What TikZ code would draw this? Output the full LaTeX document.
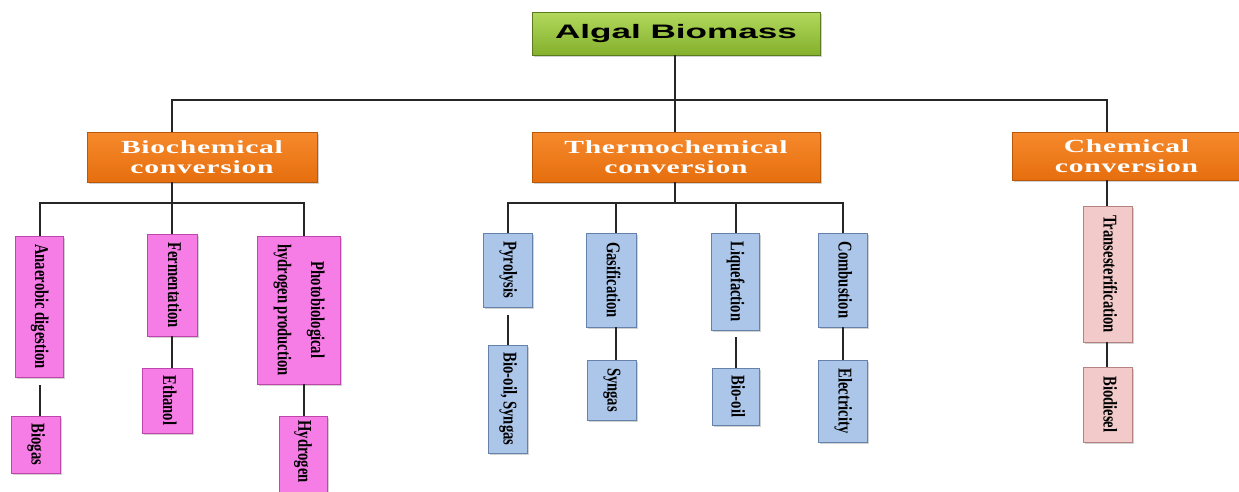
\documentclass[tikz,border=0pt]{standalone}
\usepackage{fontspec}
\setmainfont{Liberation Serif}
\newfontfamily\vfont{Liberation Serif Bold}[FakeStretch=0.75]
\newfontfamily\hfont{Liberation Serif Bold}[FakeStretch=1.6,LetterSpace=4]
\newfontfamily\tfont{Liberation Sans Bold}[FakeStretch=1.8]
\usetikzlibrary{shadows}
\definecolor{greenT}{RGB}{178,216,92}
\definecolor{greenB}{RGB}{132,176,44}
\definecolor{orangeT}{RGB}{246,138,44}
\definecolor{orangeB}{RGB}{230,110,14}
\definecolor{pinkF}{RGB}{246,125,230}
\definecolor{pinkD}{RGB}{190,70,170}
\definecolor{blueF}{RGB}{172,198,234}
\definecolor{blueD}{RGB}{100,130,170}
\definecolor{paleF}{RGB}{243,202,202}
\definecolor{paleD}{RGB}{180,130,130}
\newcommand{\vt}[1]{\rotatebox{-90}{\vfont\fontsize{19.5}{19}\selectfont\begin{tabular}{@{}c@{}}#1\end{tabular}}}
\newcommand{\vtwo}[2]{\rotatebox{-90}{\vfont\fontsize{19.5}{19}\selectfont\begin{tabular}{@{}c@{}}#1\\[14pt]#2\end{tabular}}}
\tikzset{
  box/.style={inner sep=0pt, outer sep=0pt, line width=0.6pt,
    drop shadow={opacity=0.35, shadow xshift=2pt, shadow yshift=-2pt}},
  titlebox/.style={box, draw=greenB!70!black, top color=greenT, bottom color=greenB},
  catbox/.style={box, draw=orangeB!80!black, top color=orangeT, bottom color=orangeB,
    text=white, font=\hfont\fontsize{18.5}{19.5}\selectfont, align=center},
  pinkbox/.style={box, draw=pinkD, fill=pinkF},
  bluebox/.style={box, draw=blueD, fill=blueF},
  palebox/.style={box, draw=paleD, fill=paleF},
  conn/.style={line width=1.6pt, draw=black!85}
}
\begin{document}
\begin{tikzpicture}[x=1pt,y=-1pt]
\useasboundingbox (0,0) rectangle (1239,491);
\fill[white] (0,0) rectangle (1239,491);
% top
\node[titlebox, minimum width=288, minimum height=43] (root) at (676,33.5)
  {\tfont\fontsize{19.5}{24}\selectfont Algal Biomass};
% categories
\node[catbox, minimum width=230, minimum height=50] (bio) at (202,157) {Biochemical\\conversion};
\node[catbox, minimum width=288, minimum height=50] (thermo) at (676,157) {Thermochemical\\conversion};
\node[catbox, minimum width=229, minimum height=48] (chem) at (1126.5,156) {Chemical\\conversion};
% biochemical children
\node[pinkbox, minimum width=48, minimum height=141] (anaer) at (39,306.5) {\vt{Anaerobic digestion}};
\node[pinkbox, minimum width=49, minimum height=57] (biogas) at (35.5,444.5) {\vt{Biogas}};
\node[pinkbox, minimum width=50, minimum height=102] (ferm) at (172,285) {\vt{Fermentation}};
\node[pinkbox, minimum width=50, minimum height=65] (ethanol) at (167,400.5) {\vt{Ethanol}};
\node[pinkbox, minimum width=83, minimum height=148] (photo) at (298.5,310) {\vtwo{Photobiological}{hydrogen production}};
\node[pinkbox, minimum width=48, minimum height=80, anchor=north] (hydro) at (303,416) {\rotatebox{-90}{\vfont\fontsize{19.5}{19}\selectfont\hspace*{3pt}Hydrogen\hspace*{12pt}}};
% thermochemical children
\node[bluebox, minimum width=49, minimum height=74] (pyro) at (507.5,270) {\vt{Pyrolysis}};
\node[bluebox, minimum width=39, minimum height=108] (bosyn) at (507.5,399) {\vt{Bio-oil, Syngas}};
\node[bluebox, minimum width=50, minimum height=94] (gasif) at (611,280) {\vt{Gasification}};
\node[bluebox, minimum width=49, minimum height=60] (syngas) at (611.5,390) {\vt{Syngas}};
\node[bluebox, minimum width=48, minimum height=97] (liq) at (735,281.5) {\vt{Liquefaction}};
\node[bluebox, minimum width=47, minimum height=57] (biooil) at (735.5,396.5) {\vt{Bio-oil}};
\node[bluebox, minimum width=49, minimum height=94] (comb) at (842.5,280) {\vt{Combustion}};
\node[bluebox, minimum width=49, minimum height=82] (elec) at (842.5,401) {\vt{Electricity}};
% chemical children
\node[palebox, minimum width=49, minimum height=136] (trans) at (1107.5,274) {\vt{Transesterification}};
\node[palebox, minimum width=49, minimum height=75] (biod) at (1107.5,404.5) {\vt{Biodiesel}};
% bus coordinates
\coordinate (rbus) at (675,100);
\coordinate (rbL) at (172,100);
\coordinate (rbR) at (1107,100);
\coordinate (bbus) at (172,203);
\coordinate (tbus) at (675,203);
% connectors: top level
\draw[conn] (root.south -| rbus) -- (rbus);
\draw[conn] (rbus) -- (rbL) -- (bio.north -| rbL);
\draw[conn] (rbus) -- (thermo.north -| rbus);
\draw[conn] (rbus) -- (rbR) -- (chem.north -| rbR);
% biochemical
\draw[conn] (bio.south -| bbus) -- (bbus);
\draw[conn] (bbus) -- (40,203) -- (anaer.north -| 40,0);
\draw[conn] (bbus) -- (ferm.north -| bbus);
\draw[conn] (bbus) -- (304,203) -- (photo.north -| 304,0);
\draw[conn] (40,385) -- (biogas.north -| 40,0);
\draw[conn] (ferm.south) -- (ferm.south |- ethanol.north);
\draw[conn] (photo.south -| 304,0) -- (hydro.north -| 304,0);
% thermochemical
\draw[conn] (thermo.south -| tbus) -- (tbus);
\draw[conn] (tbus) -- (508,203) -- (pyro.north -| 508,0);
\draw[conn] (tbus) -- (616,203) -- (gasif.north -| 616,0);
\draw[conn] (tbus) -- (736,203) -- (liq.north -| 736,0);
\draw[conn] (tbus) -- (843,203) -- (comb.north -| 843,0);
\draw[conn] (508,315) -- (bosyn.north -| 508,0);
\draw[conn] (gasif.south -| 616,0) -- (syngas.north -| 616,0);
\draw[conn] (736,337) -- (biooil.north -| 736,0);
\draw[conn] (comb.south -| 843,0) -- (elec.north -| 843,0);
% chemical
\draw[conn] (chem.south -| rbR) -- (trans.north -| rbR);
\draw[conn] (trans.south -| rbR) -- (biod.north -| rbR);
\end{tikzpicture}
\end{document}
